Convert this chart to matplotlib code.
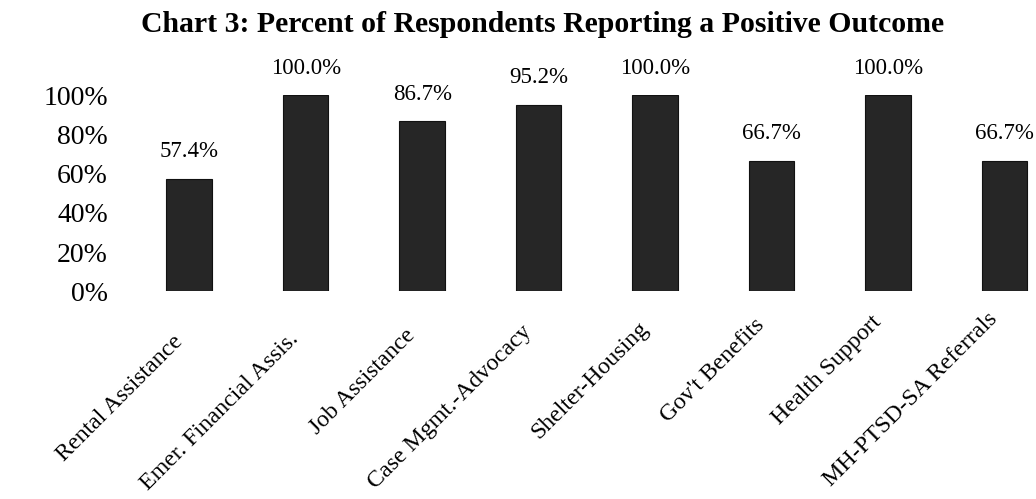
import matplotlib
matplotlib.use('Agg')
import matplotlib.pyplot as plt
from matplotlib.ticker import PercentFormatter
from matplotlib.transforms import ScaledTranslation

categories = ['Rental Assistance', 'Emer. Financial Assis.', 'Job Assistance',
              'Case Mgmt.-Advocacy', 'Shelter-Housing', "Gov't Benefits",
              'Health Support', 'MH-PTSD-SA Referrals']
values = [57.4, 100.0, 86.7, 95.2, 100.0, 66.7, 100.0, 66.7]

plt.rcParams['font.family'] = ['Liberation Serif', 'DejaVu Serif']

fig = plt.figure(figsize=(10.36, 4.99), dpi=100)
ax = fig.add_axes([0.1264, 0.416, 0.8736, 0.393])

x = range(len(categories))
bars = ax.bar(x, values, width=0.39, color='#262626', edgecolor='#111111', lw=0.8)
for b, v in zip(bars, values):
    ax.annotate('%.1f%%' % v, (b.get_x() + b.get_width() / 2, v),
                xytext=(0, 12), textcoords='offset points',
                ha='center', va='bottom', fontsize=16.5, annotation_clip=False)

ax.set_ylim(0, 100)
ax.set_xlim(-0.5, 7.27)
ax.set_yticks([0, 20, 40, 60, 80, 100])
ax.yaxis.set_major_formatter(PercentFormatter(decimals=0))
ax.tick_params(axis='y', labelsize=20, length=0, pad=16.5)
ax.set_xticks(list(x))
ax.set_xticklabels(categories, rotation=45, ha='right', va='center',
                   rotation_mode='anchor', fontsize=17.2)
ax.tick_params(axis='x', length=0, pad=34)
# the scanned labels drift upward a little from left to right
for i, lab in enumerate(ax.get_xticklabels()):
    shift = ScaledTranslation(-10 / 100, 3.3 * i / 100, fig.dpi_scale_trans)
    lab.set_transform(lab.get_transform() + shift)
for s in ax.spines.values():
    s.set_visible(False)

fig.suptitle('Chart 3: Percent of Respondents Reporting a Positive Outcome',
             x=0.5237, y=0.95, va='center', fontsize=21.4, fontweight='bold')

fig.savefig('out.png', dpi=100)
